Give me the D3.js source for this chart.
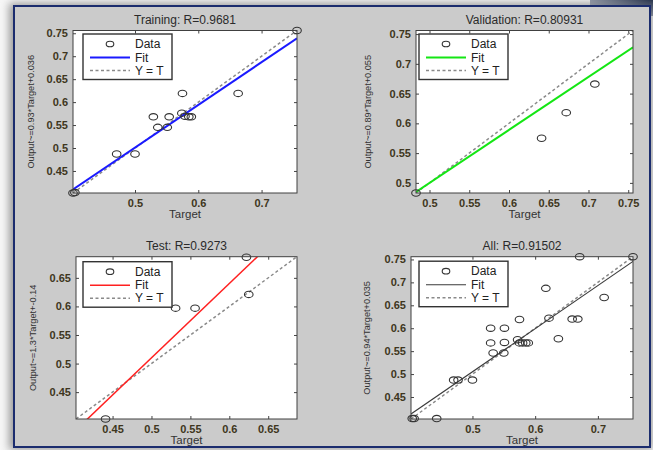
<!DOCTYPE html>
<html>
<head>
<meta charset="utf-8">
<script src="https://cdnjs.cloudflare.com/ajax/libs/d3/7.8.5/d3.min.js"></script>
<style>
  body { margin: 0; background: #f7f7f7; }
  svg { display: block; font-family: "Liberation Sans", Arial, sans-serif; }
</style>
</head>
<body>
<div id="chart"></div>
<script>
// ---- data ----
var trainTarget = [0.402, 0.405, 0.471, 0.500, 0.529, 0.536, 0.551, 0.554, 0.575, 0.574, 0.579, 0.585, 0.589, 0.663, 0.756];
var trainOutput = [0.402, 0.403, 0.487, 0.487, 0.568, 0.545, 0.545, 0.568, 0.619, 0.576, 0.569, 0.568, 0.568, 0.619, 0.756];

var valTarget = [0.483, 0.641, 0.672, 0.708];
var valOutput = [0.483, 0.575, 0.618, 0.666];

var testTarget = [0.441, 0.531, 0.556, 0.622, 0.625];
var testOutput = [0.403, 0.597, 0.597, 0.686, 0.621];

var allTarget = [0.404, 0.407, 0.443, 0.470, 0.477, 0.500, 0.529, 0.551, 0.529, 0.551, 0.533, 0.550,
                 0.575, 0.572, 0.575, 0.580, 0.585, 0.589, 0.617, 0.622, 0.637, 0.659, 0.668, 0.671, 0.710, 0.756];
var allOutput = [0.403, 0.403, 0.403, 0.487, 0.487, 0.487, 0.600, 0.600, 0.568, 0.569, 0.546, 0.546,
                 0.619, 0.575, 0.568, 0.568, 0.568, 0.568, 0.687, 0.622, 0.577, 0.620, 0.620, 0.756, 0.667, 0.756];

var panelTitles = ["Training: R=0.9681", "Validation: R=0.80931", "Test: R=0.9273", "All: R=0.91502"];
var yLabels = ["Output~=0.93*Target+0.036", "Output~=0.89*Target+0.055", "Output~=1.3*Target+-0.14", "Output~=0.94*Target+0.035"];
var fitSlope = [0.93, 0.89, 1.3, 0.94];
var fitOffset = [0.036, 0.055, -0.14, 0.035];
var axisDomains = [[0.402, 0.756], [0.483, 0.756], [0.403, 0.687], [0.402, 0.756]];
var xTicks = [[0.5, 0.6, 0.7], [0.5, 0.55, 0.6, 0.65, 0.7, 0.75], [0.45, 0.5, 0.55, 0.6, 0.65], [0.5, 0.6, 0.7]];
var yTicks = [[0.45, 0.5, 0.55, 0.6, 0.65, 0.7, 0.75], [0.5, 0.55, 0.6, 0.65, 0.7, 0.75], [0.45, 0.5, 0.55, 0.6, 0.65], [0.45, 0.5, 0.55, 0.6, 0.65, 0.7, 0.75]];
var legendLabels = ["Data", "Fit", "Y = T"];

var W = 653, H = 450;
var svg = d3.select("#chart").append("svg").attr("width", W).attr("height", H);
var defs = svg.append("defs");

// window frame
var blur = defs.append("filter").attr("id", "shadow").attr("x", "-5%").attr("y", "-5%").attr("width", "110%").attr("height", "110%");
blur.append("feGaussianBlur").attr("stdDeviation", 4);
var corner = defs.append("linearGradient").attr("id", "corner").attr("x1", 0).attr("x2", 1).attr("y1", 1).attr("y2", 0);
corner.append("stop").attr("offset", "0%").attr("stop-color", "#3a4a6a").attr("stop-opacity", 0);
corner.append("stop").attr("offset", "100%").attr("stop-color", "#1e2a44").attr("stop-opacity", 0.95);

svg.append("rect").attr("x", 9).attr("y", 3).attr("width", 644).attr("height", 447)
  .attr("fill", "#9a9a9a").attr("filter", "url(#shadow)");
svg.append("rect").attr("x", 590).attr("y", 0).attr("width", 63).attr("height", 16).attr("fill", "url(#corner)");
svg.append("rect").attr("x", 14).attr("y", 6).attr("width", 636).attr("height", 441)
  .attr("fill", "#cbcbcb").attr("stroke", "#1b2c6e").attr("stroke-width", 2);

var panels = [
  { box: [73, 30.5, 297, 193], tx: trainTarget, ty: trainOutput, color: "#1a1aff", fw: 2, lx: 10, ly: 3.5, yl: 43 },
  { box: [416, 30.5, 633, 193], tx: valTarget, ty: valOutput, color: "#14e614", fw: 2, lx: 3, ly: 3.5, yl: 49 },
  { box: [76, 256.7, 297, 419], tx: testTarget, ty: testOutput, color: "#ff2020", fw: 1.5, lx: 7, ly: 5, yl: 44 },
  { box: [411, 256.7, 633, 419], tx: allTarget, ty: allOutput, color: "#3a3a3a", fw: 1.1, lx: 8, ly: 4.5, yl: 45 }
];

panels.forEach(function (p, i) {
  var x0 = p.box[0], y0 = p.box[1], x1 = p.box[2], y1 = p.box[3];
  var dom = axisDomains[i];
  var x = d3.scaleLinear().domain(dom).range([x0, x1]);
  var y = d3.scaleLinear().domain(dom).range([y1, y0]);
  var fmt = function (d) { return String(+d.toFixed(2)); };
  var g = svg.append("g");

  g.append("rect").attr("x", x0).attr("y", y0).attr("width", x1 - x0).attr("height", y1 - y0).attr("fill", "#ffffff");

  var clipId = "clip" + i;
  defs.append("clipPath").attr("id", clipId).append("rect")
    .attr("x", x0).attr("y", y0).attr("width", x1 - x0).attr("height", y1 - y0);

  // axes with inward ticks
  var ax = g.append("g").attr("transform", "translate(0," + y1 + ")")
    .call(d3.axisBottom(x).tickValues(xTicks[i]).tickSize(-3).tickPadding(6).tickFormat(fmt));
  var ay = g.append("g").attr("transform", "translate(" + x0 + ",0)")
    .call(d3.axisLeft(y).tickValues(yTicks[i]).tickSize(-3).tickPadding(5).tickFormat(fmt));
  g.append("g").attr("transform", "translate(0," + y0 + ")")
    .call(d3.axisTop(x).tickValues(xTicks[i]).tickSize(-3).tickFormat(""));
  g.append("g").attr("transform", "translate(" + x1 + ",0)")
    .call(d3.axisRight(y).tickValues(yTicks[i]).tickSize(-3).tickFormat(""));
  g.selectAll(".domain").remove();
  g.selectAll(".tick line").attr("stroke", "#444");
  [ax, ay].forEach(function (a) {
    a.selectAll("text").attr("font-size", 11).attr("font-weight", "bold").attr("fill", "#3e3620")
      .attr("font-family", "Liberation Sans, Arial, sans-serif");
  });

  var plot = g.append("g").attr("clip-path", "url(#" + clipId + ")");
  // Y = T
  plot.append("line").attr("x1", x(dom[0])).attr("y1", y(dom[0])).attr("x2", x(dom[1])).attr("y2", y(dom[1]))
    .attr("stroke", "#8a8a8a").attr("stroke-width", 1.5).attr("stroke-dasharray", "3,2.5");
  // fit
  plot.append("line")
    .attr("x1", x(dom[0])).attr("y1", y(fitSlope[i] * dom[0] + fitOffset[i]))
    .attr("x2", x(dom[1])).attr("y2", y(fitSlope[i] * dom[1] + fitOffset[i]))
    .attr("stroke", p.color).attr("stroke-width", p.fw);

  // data circles
  g.append("g").selectAll("ellipse").data(p.tx).enter().append("ellipse")
    .attr("cx", function (d) { return x(d); })
    .attr("cy", function (d, j) { return y(p.ty[j]); })
    .attr("rx", 4.3).attr("ry", 3.2)
    .attr("fill", "none").attr("stroke", "#333").attr("stroke-width", 1.1);

  // box
  g.append("rect").attr("x", x0).attr("y", y0).attr("width", x1 - x0).attr("height", y1 - y0)
    .attr("fill", "none").attr("stroke", "#404040").attr("stroke-width", 1);

  // titles
  g.append("text").attr("x", (x0 + x1) / 2).attr("y", y0 - 6.5).attr("text-anchor", "middle")
    .attr("font-size", 12).attr("fill", "#2a2a2a").text(panelTitles[i]);
  g.append("text").attr("x", (x0 + x1) / 2).attr("y", y1 + 25).attr("text-anchor", "middle")
    .attr("font-size", 11.5).attr("fill", "#333").text("Target");
  g.append("text").attr("transform", "translate(" + (x0 - p.yl + 3.5) + "," + ((y0 + y1) / 2) + ") rotate(-90)")
    .attr("text-anchor", "middle").attr("font-size", 9.2).attr("fill", "#333").text(yLabels[i]);

  // legend
  var lgx = x0 + p.lx, lgy = y0 + p.ly;
  var lg = g.append("g").attr("transform", "translate(" + lgx + "," + lgy + ")");
  lg.append("rect").attr("width", 89).attr("height", 45.5).attr("fill", "#fff")
    .attr("stroke", "#333").attr("stroke-width", 1.4);
  var rowY = [10, 23.5, 36.5];
  lg.append("ellipse").attr("cx", 27).attr("cy", rowY[0]).attr("rx", 3.8).attr("ry", 2.8)
    .attr("fill", "none").attr("stroke", "#333").attr("stroke-width", 1.1);
  lg.append("line").attr("x1", 7).attr("x2", 47).attr("y1", rowY[1]).attr("y2", rowY[1])
    .attr("stroke", p.color).attr("stroke-width", p.fw);
  lg.append("line").attr("x1", 7).attr("x2", 47).attr("y1", rowY[2]).attr("y2", rowY[2])
    .attr("stroke", "#8a8a8a").attr("stroke-width", 1.5).attr("stroke-dasharray", "3,2.5");
  lg.selectAll("text.lbl").data(legendLabels).enter().append("text").attr("class", "lbl")
    .attr("x", 52).attr("y", function (d, j) { return rowY[j] + 4; })
    .attr("font-size", 12).attr("fill", "#222").text(function (d) { return d; });
});
</script>
</body>
</html>
